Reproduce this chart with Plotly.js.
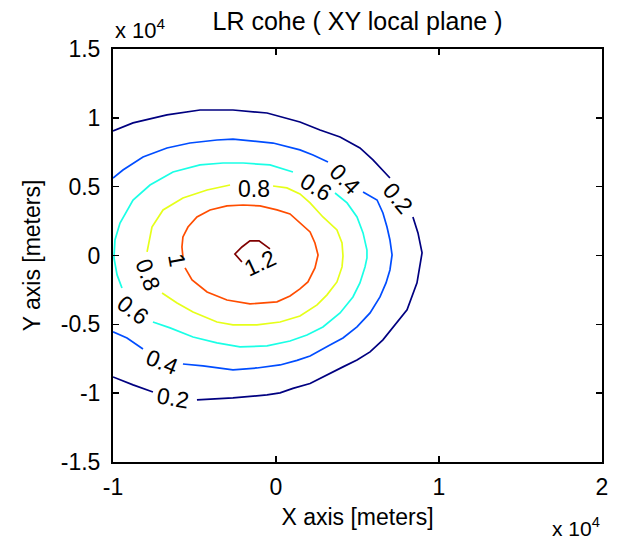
<!DOCTYPE html>
<html><head><meta charset="utf-8">
<script src="https://cdn.plot.ly/plotly-3.0.1.min.js"></script>
<style>html,body{margin:0;padding:0;background:#fff}</style>
</head><body><div id="chart" style="width:619px;height:543px"></div>
<script>
// Contour levels and traced contour lines (units of 1e4 m); null = gap for a label
const levels = [0.2, 0.4, 0.6, 0.8, 1.0, 1.2];

const level02X = [-1, -0.877, -0.669, -0.466, -0.264, -0.055, 0.147, 0.270, 0.393, 0.515, 0.595, 0.699, null,
  0.840, 0.871, 0.896, 0.883, 0.865, 0.804, 0.742, 0.656, 0.577, 0.497, 0.411, 0.288, 0.209, 0.104, 0.025, -0.055, -0.264, -0.485, null,
  -0.755, -0.877, -1];
const level02Y = [0.905, 0.963, 1.021, 1.057, 1.057, 1.035, 0.970, 0.912, 0.861, 0.781, 0.694, 0.563, null,
  0.280, 0.164, 0.019, -0.083, -0.199, -0.395, -0.490, -0.613, -0.700, -0.759, -0.809, -0.882, -0.930, -0.965, -0.998, -1.013, -1.034, -1.049, null,
  -0.991, -0.940, -0.882];

const level04X = [-1, -0.939, -0.816, -0.669, -0.528, -0.362, -0.264, -0.160, -0.018, 0.147, 0.227, 0.319, null,
  0.534, 0.620, 0.656, 0.681, 0.699, 0.712, 0.699, 0.675, 0.638, 0.577, 0.497, 0.411, 0.331, 0.209, 0.129, 0.025, -0.117, -0.264, -0.448, -0.571, null,
  -0.816, -0.914, -1];
const level04Y = [0.563, 0.621, 0.716, 0.781, 0.817, 0.839, 0.846, 0.832, 0.817, 0.767, 0.730, 0.679, null,
  0.462, 0.403, 0.309, 0.207, 0.113, 0.004, -0.105, -0.199, -0.301, -0.417, -0.519, -0.599, -0.650, -0.730, -0.762, -0.795, -0.817, -0.831, -0.802, -0.788, null,
  -0.679, -0.599, -0.555];

const level06X = [-0.945, -0.975, -0.994, -0.988, -0.957, -0.877, -0.773, -0.632, -0.466, -0.325, -0.202, -0.037, 0.104, null,
  0.362, 0.436, 0.497, 0.534, 0.558, 0.558, 0.546, 0.515, 0.472, 0.393, 0.288, 0.190, 0.086, 0.025, -0.055, -0.221, -0.362, -0.509, -0.650, -0.755];
const level06Y = [-0.236, -0.141, -0.018, 0.113, 0.236, 0.403, 0.512, 0.607, 0.658, 0.672, 0.672, 0.658, 0.607, null,
  0.454, 0.382, 0.280, 0.164, 0.040, -0.018, -0.083, -0.199, -0.301, -0.417, -0.519, -0.577, -0.621, -0.635, -0.657, -0.664, -0.635, -0.592, -0.526, -0.483];

const level08X = [-0.791, -0.761, -0.693, -0.571, -0.423, -0.282, null,
  -0.018, 0.067, 0.147, 0.209, 0.288, 0.374, 0.405, 0.411, 0.405, 0.374, 0.313, 0.252, 0.147, 0.025, -0.117, -0.264, -0.362, -0.509, -0.607, -0.699];
const level08Y = [0.026, 0.207, 0.331, 0.418, 0.476, 0.512, null,
  0.505, 0.491, 0.447, 0.382, 0.280, 0.186, 0.091, -0.003, -0.083, -0.192, -0.286, -0.359, -0.439, -0.483, -0.504, -0.504, -0.483, -0.410, -0.345, -0.272];

const level10X = [-0.558, -0.515, -0.423, -0.301, -0.160, 0.006, 0.086, 0.147, 0.196, 0.239, 0.258, 0.239, 0.209, 0.147, 0.086, 0.006, -0.098, -0.202, -0.301, -0.405, -0.485, -0.540, -0.571, -0.577, -0.571];
const level10Y = [-0.090, -0.178, -0.265, -0.323, -0.352, -0.337, -0.294, -0.243, -0.192, -0.090, 0.004, 0.091, 0.171, 0.236, 0.302, 0.331, 0.360, 0.367, 0.360, 0.331, 0.280, 0.207, 0.135, 0.062, -0.011];

const level12X = [-0.209, -0.252, -0.209, -0.160, -0.104, -0.037];
const level12Y = [-0.047, 0.011, 0.062, 0.106, 0.106, 0.048];

// Contour labels
const labelText  = ['0.2', '0.4', '0.6', '0.8', '1', '1.2', '0.8', '0.6', '0.4', '0.2'];
const labelX     = [0.748, 0.423, 0.245, -0.135, -0.607, -0.098, -0.785, -0.877, -0.699, -0.632];
const labelY     = [0.418, 0.556, 0.498, 0.483, -0.032, -0.054, -0.141, -0.395, -0.773, -1.034];
const labelAngle = [50, 45, 31, 0, 80, -25, 70, 37, 22, 10];

const xTicks = [-1, 0, 1, 2];
const yTicks = [-1.5, -1, -0.5, 0, 0.5, 1, 1.5];

const lineColors = ['#000080', '#004DFF', '#1AFFE6', '#E6FF1A', '#FF4D00', '#800000'];
const FONT = 'Liberation Sans, Arial, sans-serif';

const lineXs = [level02X, level04X, level06X, level08X, level10X, level12X];
const lineYs = [level02Y, level04Y, level06Y, level08Y, level10Y, level12Y];

const traces = levels.map((lv, i) => ({
  type: 'scatter', mode: 'lines', name: String(lv),
  x: lineXs[i], y: lineYs[i], connectgaps: false,
  line: {color: lineColors[i], width: 1.7},
  hoverinfo: 'skip', showlegend: false
}));

const annotations = labelText.map((t, i) => ({
  x: labelX[i], y: labelY[i], xref: 'x', yref: 'y', text: t,
  textangle: labelAngle[i], showarrow: false,
  font: {family: FONT, size: 23, color: '#000'}
}));

annotations.push(
  {xref: 'paper', yref: 'paper', x: 0, y: 1, xanchor: 'left', yanchor: 'bottom', yshift: 4,
   text: 'x 10<sup>4</sup>', showarrow: false, font: {family: FONT, size: 22, color: '#000'}},
  {xref: 'paper', yref: 'paper', x: 1, y: 0, xanchor: 'right', yanchor: 'top', yshift: -50,
   text: 'x 10<sup>4</sup>', showarrow: false, font: {family: FONT, size: 21, color: '#000'}}
);

const axisCommon = {
  showgrid: false, zeroline: false, showline: true, linecolor: '#000', linewidth: 2,
  mirror: 'ticks', ticks: 'inside', ticklen: 6, tickwidth: 1.5, tickcolor: '#000',
  tickfont: {family: FONT, size: 23, color: '#000'}
};

const layout = {
  width: 619, height: 543,
  margin: {l: 113, r: 17, t: 49, b: 81, pad: 0},
  paper_bgcolor: '#fff', plot_bgcolor: '#fff',
  title: {text: 'LR cohe ( XY local plane )', font: {family: FONT, size: 25, color: '#000'},
          x: 0.5, xref: 'paper', y: 1, yref: 'container', yanchor: 'top', pad: {t: 12}},
  xaxis: Object.assign({}, axisCommon, {
    range: [-1, 2], tickmode: 'array', tickvals: xTicks, ticktext: xTicks.map(String),
    ticklabelstandoff: 3,
    title: {text: 'X axis [meters]', font: {family: FONT, size: 23, color: '#000'}, standoff: 10}
  }),
  yaxis: Object.assign({}, axisCommon, {
    range: [-1.5, 1.5], tickmode: 'array', tickvals: yTicks, ticktext: yTicks.map(String),
    ticklabelstandoff: 6,
    title: {text: 'Y axis [meters]', font: {family: FONT, size: 23, color: '#000'}, standoff: 14}
  }),
  annotations: annotations,
  showlegend: false
};

Plotly.newPlot('chart', traces, layout, {displayModeBar: false, staticPlot: true});
</script>
</body></html>
